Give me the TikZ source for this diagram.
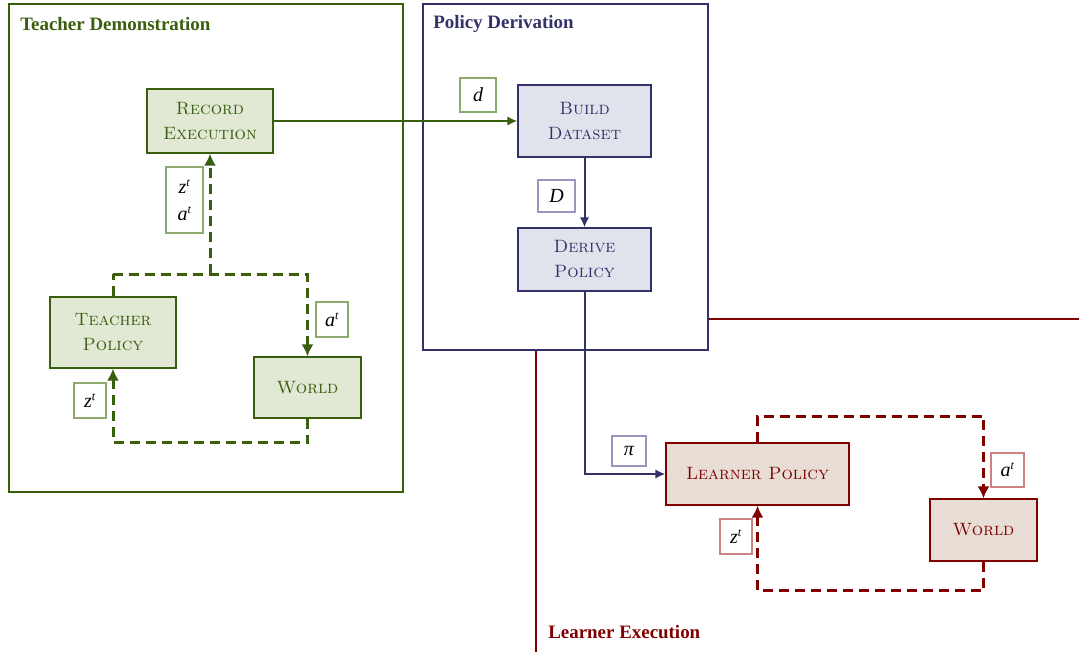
\documentclass[tikz,border=0pt]{standalone}
\usepackage{fontspec}
\newfontfamily\tnr{Liberation Serif}
\usetikzlibrary{arrows.meta}
\definecolor{tgreen}{RGB}{56,94,14}
\definecolor{tgreenfill}{RGB}{225,233,213}
\definecolor{tgreenlab}{RGB}{140,170,110}
\definecolor{pnavy}{RGB}{50,50,104}
\definecolor{pnavyfill}{RGB}{224,227,235}
\definecolor{pnavylab}{RGB}{150,150,190}
\definecolor{lred}{RGB}{128,0,0}
\definecolor{lredfill}{RGB}{232,221,213}
\definecolor{lredlab}{RGB}{205,130,130}
\tikzset{
  area/.style={line width=1.5pt},
  areatitle/.style={anchor=west,inner sep=0pt,font=\tnr\fontsize{14.2}{17}\selectfont\bfseries},
  proc/.style={draw,line width=0.9pt,align=center,inner sep=0pt,
    font=\fontsize{13.4}{18.75}\selectfont\scshape},
  lab/.style={draw,fill=white,line width=0.8pt,align=center,inner sep=0pt,
    font=\tnr\fontsize{15}{22}\selectfont\itshape},
  flow/.style={line width=1.5pt,-{Latex[length=7.5pt,width=7pt]}},
  loop/.style={line width=2.25pt,dash pattern=on 7.5pt off 4.5pt},
  looparrow/.style={loop,-{Latex[length=9pt,width=9pt]}},
}
\newcommand{\supt}[1]{\textsuperscript{\upshape\fontsize{9}{9}\selectfont\itshape #1}}
\begin{document}
\begin{tikzpicture}[x=0.75pt,y=-0.75pt]
\useasboundingbox (0,0) rectangle (1079,651);
\clip (0,0) rectangle (1079,651);

% learner execution area (runs beyond the page)
\draw[area,lred] (536,319) rectangle (1200,760);
\node[areatitle,text=lred] (ltitle) at (548,632) {Learner Execution};

% policy derivation area
\draw[area,pnavy,fill=white] (423,4) rectangle (708,350);
\node[areatitle,text=pnavy] (ptitle) at (433,24) {Policy Derivation};

% teacher demonstration area
\draw[area,tgreen] (9,4) rectangle (403,492);
\node[areatitle,text=tgreen] (ttitle) at (20,24) {Teacher Demonstration};

% teacher nodes
\node[proc,draw=tgreen,fill=tgreenfill,text=tgreen,minimum width=94.5pt,minimum height=48pt]
  (RE) at (210,121) {Record\\Execution};
\node[proc,draw=tgreen,fill=tgreenfill,text=tgreen,minimum width=94.5pt,minimum height=53.25pt]
  (TP) at (113,332.5) {Teacher\\Policy};
\node[proc,draw=tgreen,fill=tgreenfill,text=tgreen,minimum width=80.25pt,minimum height=45.75pt]
  (WT) at (307.5,387.5) {World};

% policy nodes
\node[proc,draw=pnavy,fill=pnavyfill,text=pnavy,minimum width=99.75pt,minimum height=54pt]
  (BD) at (584.5,121) {Build\\Dataset};
\node[proc,draw=pnavy,fill=pnavyfill,text=pnavy,minimum width=99.75pt,minimum height=47.25pt]
  (DP) at (584.5,259.5) {Derive\\Policy};

% learner nodes
\node[proc,draw=lred,fill=lredfill,text=lred,minimum width=137.25pt,minimum height=46.5pt]
  (LP) at (757.5,474) {Learner Policy};
\node[proc,draw=lred,fill=lredfill,text=lred,minimum width=80.25pt,minimum height=46.5pt]
  (WL) at (983.5,530) {World};

% teacher loop
\draw[loop,tgreen] (TP.north) -- ++(0,-22) coordinate (tj);
\draw[looparrow,tgreen] (tj) -| (WT.north);
\draw[looparrow,tgreen] (RE.south |- tj) -- (RE.south);
\draw[looparrow,tgreen] (WT.south) -- ++(0,24) -| (TP.south);

% data flow between areas
\draw[flow,tgreen] (RE.east) -- (BD.west);
\draw[flow,pnavy] (BD.south) -- (DP.north);
\draw[flow,pnavy] (DP.south) |- (LP.west);

% learner loop
\draw[looparrow,lred] (LP.north) -- ++(0,-26) -| (WL.north);
\draw[looparrow,lred] (WL.south) -- ++(0,29) -| (LP.south);

% signal labels
\node[lab,draw=tgreenlab,minimum width=27.75pt,minimum height=49.5pt] (lza) at (184.5,200)
  {z\supt{t}\\[-2pt]a\supt{t}};
\node[lab,draw=tgreenlab,minimum width=24pt,minimum height=26.25pt] (lat) at (332,319.5) {a\supt{t}};
\node[lab,draw=tgreenlab,minimum width=24pt,minimum height=26.25pt] (lzt) at (90,400.5) {z\supt{t}};
\node[lab,draw=tgreenlab,minimum width=27pt,minimum height=25.5pt] (ld) at (478,95) {d};
\node[lab,draw=pnavylab,minimum width=27.75pt,minimum height=24pt] (lD) at (556.5,196) {D};
\node[lab,draw=pnavylab,minimum width=25.5pt,minimum height=22.5pt] (lpi) at (629,451) {π};
\node[lab,draw=lredlab,minimum width=24.75pt,minimum height=25.5pt] (lal) at (1007.5,470) {a\supt{t}};
\node[lab,draw=lredlab,minimum width=24pt,minimum height=26.25pt] (lzl) at (736,536.5) {z\supt{t}};
\end{tikzpicture}
\end{document}
